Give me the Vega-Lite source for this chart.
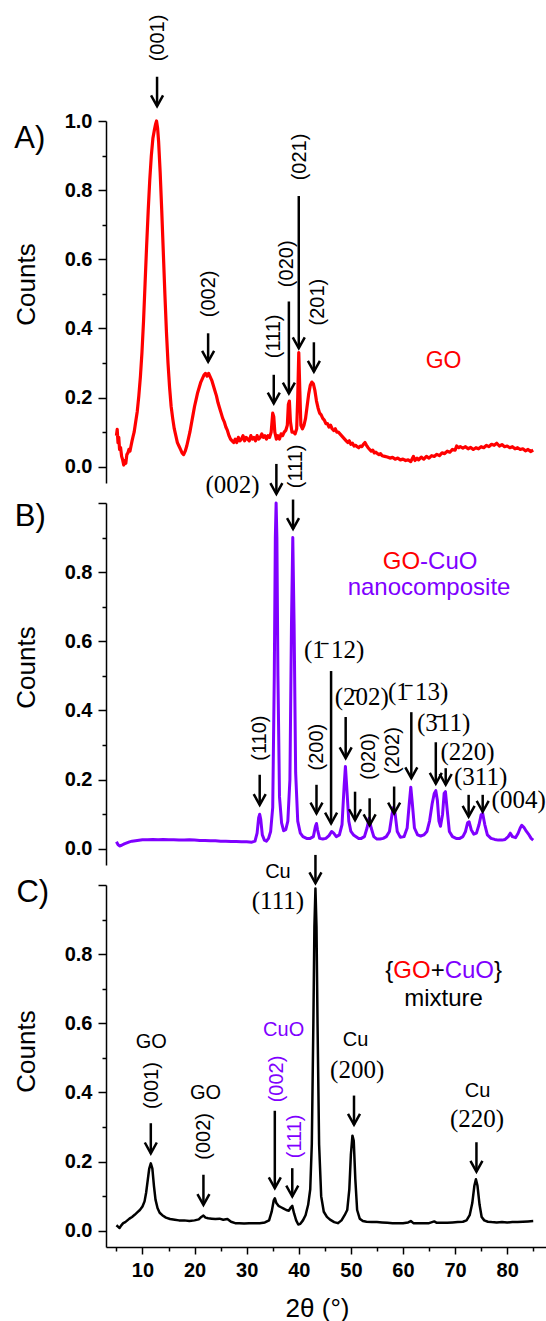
{
"$schema": "https://vega.github.io/schema/vega-lite/v6.json",
"background": "white",
"padding": {"left": 13, "top": 14, "right": 0, "bottom": 0},
"spacing": 20,
"bounds": "flush",
"config": {"view": {"stroke": null}},
"datasets": {
"specA": [
{"x":5.0,"y":0.09},{"x":5.15,"y":0.108},{"x":5.3,"y":0.07},{"x":5.45,"y":0.085},{"x":5.6,"y":0.05},{"x":5.8,"y":0.055},{"x":6.0,"y":0.03},{"x":6.2,"y":0.02},{"x":6.4,"y":0.005},{"x":6.6,"y":0.018},{"x":6.8,"y":0.01},{"x":7.0,"y":0.035},{"x":7.2,"y":0.04},{"x":7.4,"y":0.05},{"x":7.6,"y":0.045},{"x":7.8,"y":0.06},{"x":8.0,"y":0.075},{"x":8.2,"y":0.088},{"x":8.4,"y":0.1},{"x":8.7,"y":0.13},{"x":9.0,"y":0.16},{"x":9.3,"y":0.205},{"x":9.6,"y":0.26},{"x":9.9,"y":0.33},{"x":10.2,"y":0.42},{"x":10.5,"y":0.53},{"x":10.8,"y":0.64},{"x":11.1,"y":0.74},{"x":11.4,"y":0.83},{"x":11.7,"y":0.9},{"x":12.0,"y":0.95},{"x":12.3,"y":0.975},{"x":12.5,"y":0.99},{"x":12.7,"y":1.0},{"x":12.9,"y":0.98},{"x":13.1,"y":0.94},{"x":13.4,"y":0.85},{"x":13.7,"y":0.74},{"x":14.0,"y":0.62},{"x":14.3,"y":0.5},{"x":14.6,"y":0.39},{"x":14.9,"y":0.3},{"x":15.2,"y":0.23},{"x":15.5,"y":0.175},{"x":15.8,"y":0.14},{"x":16.1,"y":0.11},{"x":16.4,"y":0.09},{"x":16.7,"y":0.07},{"x":17.0,"y":0.06},{"x":17.3,"y":0.05},{"x":17.6,"y":0.04},{"x":17.9,"y":0.035},{"x":18.2,"y":0.045},{"x":18.5,"y":0.06},{"x":18.8,"y":0.08},{"x":19.1,"y":0.1},{"x":19.4,"y":0.125},{"x":19.7,"y":0.15},{"x":20.0,"y":0.175},{"x":20.3,"y":0.195},{"x":20.6,"y":0.215},{"x":20.9,"y":0.23},{"x":21.2,"y":0.245},{"x":21.5,"y":0.255},{"x":21.8,"y":0.265},{"x":22.1,"y":0.27},{"x":22.4,"y":0.262},{"x":22.7,"y":0.27},{"x":23.0,"y":0.26},{"x":23.3,"y":0.25},{"x":23.6,"y":0.235},{"x":23.9,"y":0.22},{"x":24.2,"y":0.205},{"x":24.5,"y":0.185},{"x":24.8,"y":0.17},{"x":25.1,"y":0.155},{"x":25.4,"y":0.14},{"x":25.7,"y":0.13},{"x":26.0,"y":0.115},{"x":26.3,"y":0.105},{"x":26.6,"y":0.09},{"x":26.9,"y":0.08},{"x":27.2,"y":0.075},{"x":27.5,"y":0.07},{"x":27.8,"y":0.08},{"x":28.1,"y":0.07},{"x":28.4,"y":0.085},{"x":28.7,"y":0.075},{"x":29.0,"y":0.08},{"x":29.3,"y":0.09},{"x":29.6,"y":0.075},{"x":29.9,"y":0.085},{"x":30.2,"y":0.08},{"x":30.5,"y":0.075},{"x":30.8,"y":0.09},{"x":31.1,"y":0.08},{"x":31.4,"y":0.085},{"x":31.7,"y":0.075},{"x":32.0,"y":0.09},{"x":32.3,"y":0.08},{"x":32.6,"y":0.085},{"x":32.9,"y":0.095},{"x":33.2,"y":0.085},{"x":33.5,"y":0.09},{"x":33.8,"y":0.08},{"x":34.1,"y":0.09},{"x":34.4,"y":0.085},{"x":34.7,"y":0.1},{"x":35.0,"y":0.155},{"x":35.2,"y":0.145},{"x":35.4,"y":0.1},{"x":35.7,"y":0.08},{"x":36.0,"y":0.09},{"x":36.3,"y":0.08},{"x":36.6,"y":0.095},{"x":36.9,"y":0.09},{"x":37.2,"y":0.1},{"x":37.5,"y":0.105},{"x":37.8,"y":0.12},{"x":38.0,"y":0.18},{"x":38.2,"y":0.19},{"x":38.4,"y":0.13},{"x":38.7,"y":0.1},{"x":39.0,"y":0.1},{"x":39.3,"y":0.095},{"x":39.6,"y":0.11},{"x":39.8,"y":0.2},{"x":40.0,"y":0.33},{"x":40.2,"y":0.22},{"x":40.4,"y":0.12},{"x":40.7,"y":0.11},{"x":41.0,"y":0.12},{"x":41.3,"y":0.14},{"x":41.6,"y":0.175},{"x":41.9,"y":0.21},{"x":42.2,"y":0.235},{"x":42.5,"y":0.245},{"x":42.8,"y":0.24},{"x":43.1,"y":0.22},{"x":43.4,"y":0.19},{"x":43.7,"y":0.17},{"x":44.0,"y":0.155},{"x":44.3,"y":0.15},{"x":44.6,"y":0.14},{"x":44.9,"y":0.135},{"x":45.2,"y":0.125},{"x":45.5,"y":0.125},{"x":45.8,"y":0.115},{"x":46.1,"y":0.12},{"x":46.4,"y":0.11},{"x":46.7,"y":0.105},{"x":47.0,"y":0.11},{"x":47.3,"y":0.1},{"x":47.6,"y":0.1},{"x":47.9,"y":0.095},{"x":48.2,"y":0.09},{"x":48.5,"y":0.085},{"x":48.8,"y":0.08},{"x":49.1,"y":0.075},{"x":49.4,"y":0.07},{"x":49.7,"y":0.075},{"x":50.0,"y":0.065},{"x":50.3,"y":0.068},{"x":50.6,"y":0.06},{"x":50.9,"y":0.062},{"x":51.2,"y":0.058},{"x":51.5,"y":0.055},{"x":51.8,"y":0.06},{"x":52.1,"y":0.058},{"x":52.4,"y":0.065},{"x":52.7,"y":0.07},{"x":53.0,"y":0.062},{"x":53.3,"y":0.055},{"x":53.6,"y":0.05},{"x":53.9,"y":0.045},{"x":54.2,"y":0.048},{"x":54.5,"y":0.04},{"x":54.8,"y":0.042},{"x":55.1,"y":0.038},{"x":55.4,"y":0.035},{"x":55.7,"y":0.038},{"x":56.0,"y":0.032},{"x":56.5,"y":0.03},{"x":57.0,"y":0.028},{"x":57.5,"y":0.025},{"x":58.0,"y":0.027},{"x":58.5,"y":0.022},{"x":59.0,"y":0.025},{"x":59.5,"y":0.02},{"x":60.0,"y":0.022},{"x":60.5,"y":0.018},{"x":61.0,"y":0.02},{"x":61.5,"y":0.015},{"x":62.0,"y":0.03},{"x":62.3,"y":0.018},{"x":62.7,"y":0.025},{"x":63.0,"y":0.02},{"x":63.5,"y":0.028},{"x":64.0,"y":0.022},{"x":64.5,"y":0.03},{"x":65.0,"y":0.025},{"x":65.5,"y":0.032},{"x":66.0,"y":0.03},{"x":66.5,"y":0.036},{"x":67.0,"y":0.032},{"x":67.5,"y":0.04},{"x":68.0,"y":0.038},{"x":68.5,"y":0.045},{"x":69.0,"y":0.042},{"x":69.5,"y":0.05},{"x":70.0,"y":0.048},{"x":70.3,"y":0.06},{"x":70.7,"y":0.055},{"x":71.0,"y":0.058},{"x":71.5,"y":0.054},{"x":72.0,"y":0.058},{"x":72.5,"y":0.052},{"x":73.0,"y":0.056},{"x":73.5,"y":0.05},{"x":74.0,"y":0.055},{"x":74.5,"y":0.052},{"x":75.0,"y":0.058},{"x":75.5,"y":0.055},{"x":76.0,"y":0.062},{"x":76.5,"y":0.058},{"x":77.0,"y":0.065},{"x":77.5,"y":0.062},{"x":78.0,"y":0.068},{"x":78.5,"y":0.06},{"x":79.0,"y":0.064},{"x":79.5,"y":0.058},{"x":80.0,"y":0.06},{"x":80.5,"y":0.055},{"x":81.0,"y":0.058},{"x":81.5,"y":0.052},{"x":82.0,"y":0.055},{"x":82.5,"y":0.05},{"x":83.0,"y":0.052},{"x":83.5,"y":0.046},{"x":84.0,"y":0.05},{"x":84.5,"y":0.044},{"x":85.0,"y":0.048}
],
"specB": [
{"x":5.0,"y":0.02},{"x":5.3,"y":0.012},{"x":5.6,"y":0.008},{"x":6.0,"y":0.01},{"x":6.5,"y":0.014},{"x":7.0,"y":0.017},{"x":7.5,"y":0.02},{"x":8.0,"y":0.022},{"x":9.0,"y":0.024},{"x":10.0,"y":0.026},{"x":11.0,"y":0.026},{"x":12.0,"y":0.027},{"x":13.0,"y":0.026},{"x":14.0,"y":0.027},{"x":15.0,"y":0.026},{"x":16.0,"y":0.026},{"x":17.0,"y":0.025},{"x":18.0,"y":0.025},{"x":19.0,"y":0.026},{"x":20.0,"y":0.025},{"x":21.0,"y":0.024},{"x":22.0,"y":0.024},{"x":23.0,"y":0.023},{"x":24.0,"y":0.023},{"x":25.0,"y":0.022},{"x":26.0,"y":0.022},{"x":27.0,"y":0.021},{"x":28.0,"y":0.021},{"x":29.0,"y":0.02},{"x":30.0,"y":0.02},{"x":31.0,"y":0.019},{"x":31.6,"y":0.022},{"x":32.0,"y":0.045},{"x":32.3,"y":0.09},{"x":32.5,"y":0.1},{"x":32.7,"y":0.085},{"x":33.0,"y":0.04},{"x":33.4,"y":0.025},{"x":33.8,"y":0.022},{"x":34.2,"y":0.03},{"x":34.6,"y":0.05},{"x":35.0,"y":0.12},{"x":35.3,"y":0.5},{"x":35.5,"y":0.9},{"x":35.65,"y":1.0},{"x":35.8,"y":0.9},{"x":36.0,"y":0.5},{"x":36.3,"y":0.15},{"x":36.7,"y":0.075},{"x":37.1,"y":0.052},{"x":37.5,"y":0.055},{"x":37.9,"y":0.08},{"x":38.3,"y":0.2},{"x":38.6,"y":0.65},{"x":38.85,"y":0.9},{"x":39.1,"y":0.65},{"x":39.4,"y":0.22},{"x":39.8,"y":0.08},{"x":40.3,"y":0.045},{"x":40.8,"y":0.035},{"x":41.5,"y":0.03},{"x":42.2,"y":0.03},{"x":42.8,"y":0.035},{"x":43.2,"y":0.065},{"x":43.4,"y":0.073},{"x":43.6,"y":0.055},{"x":44.0,"y":0.03},{"x":44.6,"y":0.028},{"x":45.2,"y":0.03},{"x":45.8,"y":0.038},{"x":46.3,"y":0.05},{"x":46.7,"y":0.045},{"x":47.2,"y":0.035},{"x":47.8,"y":0.04},{"x":48.3,"y":0.07},{"x":48.7,"y":0.18},{"x":48.95,"y":0.238},{"x":49.2,"y":0.18},{"x":49.6,"y":0.08},{"x":50.0,"y":0.05},{"x":50.5,"y":0.04},{"x":51.0,"y":0.035},{"x":51.5,"y":0.03},{"x":52.0,"y":0.03},{"x":52.6,"y":0.035},{"x":53.1,"y":0.06},{"x":53.5,"y":0.088},{"x":53.9,"y":0.06},{"x":54.4,"y":0.035},{"x":55.0,"y":0.028},{"x":55.6,"y":0.028},{"x":56.2,"y":0.03},{"x":56.8,"y":0.035},{"x":57.4,"y":0.05},{"x":57.9,"y":0.1},{"x":58.2,"y":0.12},{"x":58.5,"y":0.1},{"x":58.9,"y":0.05},{"x":59.5,"y":0.033},{"x":60.2,"y":0.035},{"x":60.8,"y":0.06},{"x":61.2,"y":0.13},{"x":61.5,"y":0.178},{"x":61.8,"y":0.13},{"x":62.2,"y":0.06},{"x":62.8,"y":0.04},{"x":63.4,"y":0.037},{"x":64.0,"y":0.04},{"x":64.6,"y":0.05},{"x":65.1,"y":0.08},{"x":65.6,"y":0.13},{"x":66.0,"y":0.16},{"x":66.3,"y":0.168},{"x":66.6,"y":0.14},{"x":66.9,"y":0.08},{"x":67.2,"y":0.065},{"x":67.6,"y":0.1},{"x":67.9,"y":0.16},{"x":68.15,"y":0.165},{"x":68.5,"y":0.11},{"x":68.9,"y":0.05},{"x":69.5,"y":0.035},{"x":70.2,"y":0.03},{"x":70.9,"y":0.03},{"x":71.5,"y":0.035},{"x":72.0,"y":0.05},{"x":72.4,"y":0.075},{"x":72.7,"y":0.078},{"x":73.1,"y":0.055},{"x":73.6,"y":0.042},{"x":74.1,"y":0.045},{"x":74.6,"y":0.07},{"x":75.0,"y":0.098},{"x":75.3,"y":0.102},{"x":75.7,"y":0.07},{"x":76.2,"y":0.04},{"x":76.9,"y":0.03},{"x":77.6,"y":0.027},{"x":78.3,"y":0.025},{"x":79.0,"y":0.025},{"x":79.6,"y":0.027},{"x":80.2,"y":0.035},{"x":80.6,"y":0.045},{"x":81.0,"y":0.035},{"x":81.6,"y":0.032},{"x":82.1,"y":0.045},{"x":82.5,"y":0.06},{"x":82.8,"y":0.068},{"x":83.2,"y":0.062},{"x":83.7,"y":0.05},{"x":84.2,"y":0.04},{"x":84.6,"y":0.03},{"x":85.0,"y":0.025}
],
"specC": [
{"x":5.0,"y":0.016},{"x":5.3,"y":0.012},{"x":5.6,"y":0.008},{"x":5.9,"y":0.015},{"x":6.3,"y":0.022},{"x":6.7,"y":0.025},{"x":7.1,"y":0.03},{"x":7.5,"y":0.035},{"x":8.0,"y":0.04},{"x":8.5,"y":0.046},{"x":9.0,"y":0.053},{"x":9.5,"y":0.06},{"x":10.0,"y":0.07},{"x":10.4,"y":0.085},{"x":10.7,"y":0.11},{"x":11.0,"y":0.145},{"x":11.3,"y":0.18},{"x":11.6,"y":0.195},{"x":11.9,"y":0.18},{"x":12.2,"y":0.13},{"x":12.5,"y":0.09},{"x":12.9,"y":0.065},{"x":13.3,"y":0.052},{"x":13.8,"y":0.045},{"x":14.5,"y":0.038},{"x":15.3,"y":0.034},{"x":16.2,"y":0.032},{"x":17.0,"y":0.03},{"x":18.0,"y":0.03},{"x":19.0,"y":0.028},{"x":20.0,"y":0.03},{"x":20.8,"y":0.033},{"x":21.3,"y":0.04},{"x":21.7,"y":0.044},{"x":22.1,"y":0.038},{"x":22.6,"y":0.036},{"x":23.3,"y":0.035},{"x":24.0,"y":0.034},{"x":24.8,"y":0.035},{"x":25.5,"y":0.032},{"x":26.3,"y":0.034},{"x":27.0,"y":0.026},{"x":27.8,"y":0.022},{"x":28.6,"y":0.022},{"x":29.5,"y":0.021},{"x":30.5,"y":0.022},{"x":31.5,"y":0.022},{"x":32.5,"y":0.022},{"x":33.5,"y":0.024},{"x":34.3,"y":0.03},{"x":34.8,"y":0.055},{"x":35.2,"y":0.088},{"x":35.4,"y":0.094},{"x":35.7,"y":0.08},{"x":36.1,"y":0.072},{"x":36.6,"y":0.068},{"x":37.1,"y":0.064},{"x":37.6,"y":0.06},{"x":38.1,"y":0.058},{"x":38.5,"y":0.068},{"x":38.75,"y":0.072},{"x":39.1,"y":0.05},{"x":39.5,"y":0.03},{"x":39.9,"y":0.018},{"x":40.3,"y":0.02},{"x":40.8,"y":0.03},{"x":41.3,"y":0.045},{"x":41.8,"y":0.075},{"x":42.2,"y":0.12},{"x":42.5,"y":0.25},{"x":42.8,"y":0.6},{"x":43.0,"y":0.88},{"x":43.2,"y":0.99},{"x":43.4,"y":0.88},{"x":43.6,"y":0.6},{"x":43.9,"y":0.25},{"x":44.3,"y":0.1},{"x":44.8,"y":0.055},{"x":45.4,"y":0.04},{"x":46.0,"y":0.032},{"x":46.8,"y":0.025},{"x":47.5,"y":0.022},{"x":48.2,"y":0.03},{"x":48.8,"y":0.045},{"x":49.3,"y":0.06},{"x":49.7,"y":0.12},{"x":50.0,"y":0.22},{"x":50.3,"y":0.275},{"x":50.55,"y":0.26},{"x":50.85,"y":0.15},{"x":51.2,"y":0.06},{"x":51.7,"y":0.035},{"x":52.3,"y":0.028},{"x":53.0,"y":0.026},{"x":54.0,"y":0.025},{"x":55.0,"y":0.025},{"x":56.0,"y":0.024},{"x":57.0,"y":0.023},{"x":58.0,"y":0.022},{"x":59.0,"y":0.022},{"x":60.0,"y":0.022},{"x":61.0,"y":0.024},{"x":61.5,"y":0.028},{"x":62.0,"y":0.022},{"x":63.0,"y":0.022},{"x":64.0,"y":0.022},{"x":65.0,"y":0.022},{"x":66.0,"y":0.027},{"x":66.5,"y":0.023},{"x":67.5,"y":0.023},{"x":68.5,"y":0.023},{"x":69.5,"y":0.024},{"x":70.5,"y":0.025},{"x":71.5,"y":0.026},{"x":72.2,"y":0.03},{"x":72.8,"y":0.045},{"x":73.3,"y":0.08},{"x":73.7,"y":0.13},{"x":74.0,"y":0.149},{"x":74.3,"y":0.13},{"x":74.7,"y":0.075},{"x":75.1,"y":0.04},{"x":75.6,"y":0.03},{"x":76.3,"y":0.026},{"x":77.0,"y":0.025},{"x":78.0,"y":0.024},{"x":79.0,"y":0.025},{"x":80.0,"y":0.024},{"x":81.0,"y":0.025},{"x":82.0,"y":0.025},{"x":83.0,"y":0.026},{"x":84.0,"y":0.027},{"x":85.0,"y":0.028}
],
"arrowsA": [
{"x":12.8,"y":1.043,"y2":1.128},{"x":22.6,"y":0.304,"y2":0.386},{"x":35.2,"y":0.183,"y2":0.266},{"x":38.1,"y":0.212,"y2":0.478},{"x":40.0,"y":0.343,"y2":0.783},{"x":42.9,"y":0.275,"y2":0.36}
],
"arrowsB": [
{"x":35.7,"y":1.026,"y2":1.113},{"x":38.9,"y":0.925,"y2":1.01},{"x":32.5,"y":0.127,"y2":0.214},{"x":43.4,"y":0.102,"y2":0.185},{"x":46.2,"y":0.073,"y2":0.514},{"x":49.0,"y":0.262,"y2":0.381},{"x":50.8,"y":0.083,"y2":0.165},{"x":53.6,"y":0.068,"y2":0.146},{"x":58.3,"y":0.102,"y2":0.18},{"x":61.6,"y":0.204,"y2":0.395},{"x":66.3,"y":0.188,"y2":0.308},{"x":68.2,"y":0.185,"y2":0.233},{"x":72.6,"y":0.093,"y2":0.156},{"x":75.3,"y":0.107,"y2":0.156}
],
"arrowsC": [
{"x":43.2,"y":1.005,"y2":1.087},{"x":11.6,"y":0.224,"y2":0.311},{"x":21.7,"y":0.075,"y2":0.162},{"x":35.4,"y":0.123,"y2":0.347},{"x":38.75,"y":0.099,"y2":0.181},{"x":50.6,"y":0.307,"y2":0.391},{"x":74.1,"y":0.171,"y2":0.256}
],
"rotA": [
{"x":12.9,"y":1.24,"text":"(001)","hl":"none"},{"x":22.8,"y":0.5,"text":"(002)","hl":"none"},{"x":35.2,"y":0.377,"text":"(111)","hl":"none"},{"x":37.7,"y":0.587,"text":"(020)","hl":"none"},{"x":40.3,"y":0.896,"text":"(021)","hl":"none"},{"x":43.6,"y":0.476,"text":"(201)","hl":"none"}
],
"rotB": [
{"x":39.5,"y":1.106,"text":"(111)","hl":"none"},{"x":32.5,"y":0.32,"text":"(110)","hl":"none"},{"x":43.5,"y":0.294,"text":"(200)","hl":"none"},{"x":53.5,"y":0.267,"text":"(020)","hl":"none"},{"x":58.0,"y":0.284,"text":"(202)","hl":"none"}
],
"rotC": [
{"x":11.9,"y":0.42,"text":"(001)","hl":"none"},{"x":21.8,"y":0.273,"text":"(002)","hl":"none"},{"x":35.9,"y":0.439,"text":"(002)","hl":"CuO"},{"x":39.2,"y":0.273,"text":"(111)","hl":"CuO"}
],
"serifB": [
{"x":27.3,"y":1.029,"text":"(002)"},{"x":46.8,"y":0.552,"text":"(1\u0304 12)"},{"x":52.1,"y":0.417,"text":"(2\u030402)"},{"x":62.9,"y":0.429,"text":"(1\u0304 13)"},{"x":67.8,"y":0.34,"text":"(3\u030411)"},{"x":72.4,"y":0.257,"text":"(220)"},{"x":74.9,"y":0.185,"text":"(311)"},{"x":82.2,"y":0.117,"text":"(004)"}
],
"serifC": [
{"x":36.0,"y":0.931,"text":"(111)"},{"x":51.2,"y":0.441,"text":"(200)"},{"x":74.2,"y":0.299,"text":"(220)"}
],
"sansA": [
{"x":67.8,"y":0.285,"text":"GO","hl":"GO"}
],
"sansB": [
{"x":59.7,"y":0.808,"text":"GO","hl":"GO"},{"x":68.78,"y":0.808,"text":"-CuO","hl":"CuO"},{"x":65.0,"y":0.733,"text":"nanocomposite","hl":"CuO"}
],
"sansC": [
{"x":36.0,"y":1.02,"text":"Cu","hl":"none"},{"x":11.7,"y":0.528,"text":"GO","hl":"none"},{"x":22.1,"y":0.382,"text":"GO","hl":"none"},{"x":37.1,"y":0.562,"text":"CuO","hl":"CuO"},{"x":50.9,"y":0.533,"text":"Cu","hl":"none"},{"x":74.3,"y":0.388,"text":"Cu","hl":"none"}
],
"bigC": [
{"x":57.37,"y":0.73,"text":"{","hl":"none"},{"x":61.72,"y":0.73,"text":"GO","hl":"GO"},{"x":66.66,"y":0.73,"text":"+","hl":"none"},{"x":72.74,"y":0.73,"text":"CuO","hl":"CuO"},{"x":78.25,"y":0.73,"text":"}","hl":"none"},{"x":67.79,"y":0.649,"text":"mixture","hl":"none"}
],
"letterA": [{"x":-14.6,"y":0.923,"text":"A)"}],
"letterB": [{"x":-14.5,"y":0.934,"text":"B)"}],
"letterC": [{"x":-14.2,"y":0.952,"text":"C)"}]
},
"vconcat": [
{
"width": 440, "height": 362,
"encoding": {
"x": {"field": "x", "type": "quantitative", "scale": {"domain": [3, 87.45], "nice": false, "zero": false}, "axis": null},
"y": {"field": "y", "type": "quantitative", "scale": {"domain": [-0.047, 1.0], "nice": false, "zero": false},
 "axis": {"title": "Counts", "titleFont": "Liberation Sans", "titleFontSize": 26, "titleFontWeight": "normal", "titleColor": "black", "titleX": -72, "titleY": 163, "titleBaseline": "alphabetic", "titleAngle": 270, "titleAlign": "center",
  "values": [0,0.1,0.2,0.3,0.4,0.5,0.6,0.7,0.8,0.9,1.0],
  "labelExpr": "round(datum.value*10)%2==1 ? '' : format(datum.value,'.1f')",
  "labelFont": "Liberation Sans", "labelFontSize": 20, "labelFontWeight": "bold", "labelColor": "black", "labelPadding": 6, "labelFlush": false, "labelOverlap": false,
  "tickSize": {"condition": {"test": "round(datum.value*10)%2==1", "value": 4}, "value": 8},
  "tickColor": "black", "tickWidth": 1.5, "domainColor": "black", "domainWidth": 1.5, "grid": false}}
},
"layer": [
{"data": {"name": "specA"}, "mark": {"type": "line", "color": "#ff0000", "strokeWidth": 3.2, "strokeJoin": "round"}},
{"data": {"name": "arrowsA"}, "mark": {"type": "rule", "color": "black", "strokeWidth": 2.5}, "encoding": {"y2": {"field": "y2"}}},
{"data": {"name": "arrowsA"}, "mark": {"type": "point", "shape": "M-1,-1.8L0,0L1,-1.8", "size": 144, "filled": false, "stroke": "black", "strokeWidth": 2.5, "opacity": 1, "strokeJoin": "miter"}},
{"data": {"name": "rotA"}, "mark": {"type": "text", "font": "Liberation Sans", "fontSize": 20, "angle": 270, "align": "center", "baseline": "middle", "color": "black"}, "encoding": {"text": {"field": "text"}}},
{"data": {"name": "sansA"}, "mark": {"type": "text", "font": "Liberation Sans", "fontSize": 23, "align": "center", "baseline": "alphabetic"}, "encoding": {"text": {"field": "text"}, "color": {"field": "hl", "type": "nominal", "scale": {"domain": ["GO","CuO","none"], "range": ["#ff0000","#7f00ff","#000000"]}, "legend": null}}},
{"data": {"name": "letterA"}, "mark": {"type": "text", "font": "Liberation Sans", "fontSize": 31, "align": "left", "baseline": "alphabetic", "color": "black"}, "encoding": {"text": {"field": "text"}}}
]
},
{
"width": 440, "height": 362,
"encoding": {
"x": {"field": "x", "type": "quantitative", "scale": {"domain": [3, 87.45], "nice": false, "zero": false}, "axis": null},
"y": {"field": "y", "type": "quantitative", "scale": {"domain": [-0.047, 1.0], "nice": false, "zero": false},
 "axis": {"title": "Counts", "titleFont": "Liberation Sans", "titleFontSize": 26, "titleFontWeight": "normal", "titleColor": "black", "titleX": -72, "titleY": 164, "titleBaseline": "alphabetic", "titleAngle": 270, "titleAlign": "center",
  "values": [0,0.1,0.2,0.3,0.4,0.5,0.6,0.7,0.8,0.9,1.0],
  "labelExpr": "(round(datum.value*10)%2==1 || datum.value>0.95) ? '' : format(datum.value,'.1f')",
  "labelFont": "Liberation Sans", "labelFontSize": 20, "labelFontWeight": "bold", "labelColor": "black", "labelPadding": 6, "labelFlush": false, "labelOverlap": false,
  "tickSize": {"condition": {"test": "round(datum.value*10)%2==1", "value": 4}, "value": 8},
  "tickColor": "black", "tickWidth": 1.5, "domainColor": "black", "domainWidth": 1.5, "grid": false}}
},
"layer": [
{"data": {"name": "specB"}, "mark": {"type": "line", "color": "#7f00ff", "strokeWidth": 3, "strokeJoin": "round"}},
{"data": {"name": "arrowsB"}, "mark": {"type": "rule", "color": "black", "strokeWidth": 2.5}, "encoding": {"y2": {"field": "y2"}}},
{"data": {"name": "arrowsB"}, "mark": {"type": "point", "shape": "M-1,-1.8L0,0L1,-1.8", "size": 144, "filled": false, "stroke": "black", "strokeWidth": 2.5, "opacity": 1, "strokeJoin": "miter"}},
{"data": {"name": "rotB"}, "mark": {"type": "text", "font": "Liberation Sans", "fontSize": 20, "angle": 270, "align": "center", "baseline": "middle", "color": "black"}, "encoding": {"text": {"field": "text"}}},
{"data": {"name": "serifB"}, "mark": {"type": "text", "font": "Liberation Serif", "fontSize": 25, "align": "center", "baseline": "alphabetic", "color": "black"}, "encoding": {"text": {"field": "text"}}},
{"data": {"name": "sansB"}, "mark": {"type": "text", "font": "Liberation Sans", "fontSize": 24, "align": "center", "baseline": "alphabetic"}, "encoding": {"text": {"field": "text"}, "color": {"field": "hl", "type": "nominal", "scale": {"domain": ["GO","CuO","none"], "range": ["#ff0000","#7f00ff","#000000"]}, "legend": null}}},
{"data": {"name": "letterB"}, "mark": {"type": "text", "font": "Liberation Sans", "fontSize": 31, "align": "left", "baseline": "alphabetic", "color": "black"}, "encoding": {"text": {"field": "text"}}}
]
},
{
"width": 440, "height": 362,
"encoding": {
"x": {"field": "x", "type": "quantitative", "scale": {"domain": [3, 87.45], "nice": false, "zero": false},
 "axis": {"title": "2θ (°)", "titleFont": "Liberation Sans", "titleFontSize": 26, "titleFontWeight": "normal", "titleColor": "black", "titleX": 211, "titleY": 69, "titleBaseline": "alphabetic", "titleAlign": "center",
  "values": [5,10,15,20,25,30,35,40,45,50,55,60,65,70,75,80,85],
  "labelExpr": "datum.value%10==5 ? '' : format(datum.value,'d')",
  "labelFont": "Liberation Sans", "labelFontSize": 20, "labelFontWeight": "bold", "labelColor": "black", "labelPadding": 6, "labelFlush": false, "labelOverlap": false,
  "tickSize": {"condition": {"test": "datum.value%10==5", "value": 4}, "value": 7},
  "tickColor": "black", "tickWidth": 1.5, "domainColor": "black", "domainWidth": 1.5, "grid": false}},
"y": {"field": "y", "type": "quantitative", "scale": {"domain": [-0.047, 1.0], "nice": false, "zero": false},
 "axis": {"title": "Counts", "titleFont": "Liberation Sans", "titleFontSize": 26, "titleFontWeight": "normal", "titleColor": "black", "titleX": -72, "titleY": 166, "titleBaseline": "alphabetic", "titleAngle": 270, "titleAlign": "center",
  "values": [0,0.1,0.2,0.3,0.4,0.5,0.6,0.7,0.8,0.9,1.0],
  "labelExpr": "(round(datum.value*10)%2==1 || datum.value>0.95) ? '' : format(datum.value,'.1f')",
  "labelFont": "Liberation Sans", "labelFontSize": 20, "labelFontWeight": "bold", "labelColor": "black", "labelPadding": 6, "labelFlush": false, "labelOverlap": false,
  "tickSize": {"condition": {"test": "round(datum.value*10)%2==1", "value": 4}, "value": 8},
  "tickColor": "black", "tickWidth": 1.5, "domainColor": "black", "domainWidth": 1.5, "grid": false}}
},
"layer": [
{"data": {"name": "specC"}, "mark": {"type": "line", "color": "#000000", "strokeWidth": 2.5, "strokeJoin": "round"}},
{"data": {"name": "arrowsC"}, "mark": {"type": "rule", "color": "black", "strokeWidth": 2.5}, "encoding": {"y2": {"field": "y2"}}},
{"data": {"name": "arrowsC"}, "mark": {"type": "point", "shape": "M-1,-1.8L0,0L1,-1.8", "size": 144, "filled": false, "stroke": "black", "strokeWidth": 2.5, "opacity": 1, "strokeJoin": "miter"}},
{"data": {"name": "rotC"}, "mark": {"type": "text", "font": "Liberation Sans", "fontSize": 20, "angle": 270, "align": "center", "baseline": "middle"}, "encoding": {"text": {"field": "text"}, "color": {"field": "hl", "type": "nominal", "scale": {"domain": ["GO","CuO","none"], "range": ["#ff0000","#7f00ff","#000000"]}, "legend": null}}},
{"data": {"name": "serifC"}, "mark": {"type": "text", "font": "Liberation Serif", "fontSize": 25, "align": "center", "baseline": "alphabetic", "color": "black"}, "encoding": {"text": {"field": "text"}}},
{"data": {"name": "sansC"}, "mark": {"type": "text", "font": "Liberation Sans", "fontSize": 20, "align": "center", "baseline": "alphabetic"}, "encoding": {"text": {"field": "text"}, "color": {"field": "hl", "type": "nominal", "scale": {"domain": ["GO","CuO","none"], "range": ["#ff0000","#7f00ff","#000000"]}, "legend": null}}},
{"data": {"name": "bigC"}, "mark": {"type": "text", "font": "Liberation Sans", "fontSize": 24, "align": "center", "baseline": "alphabetic"}, "encoding": {"text": {"field": "text"}, "color": {"field": "hl", "type": "nominal", "scale": {"domain": ["GO","CuO","none"], "range": ["#ff0000","#7f00ff","#000000"]}, "legend": null}}},
{"data": {"name": "letterC"}, "mark": {"type": "text", "font": "Liberation Sans", "fontSize": 31, "align": "left", "baseline": "alphabetic", "color": "black"}, "encoding": {"text": {"field": "text"}}}
]
}
]
}
